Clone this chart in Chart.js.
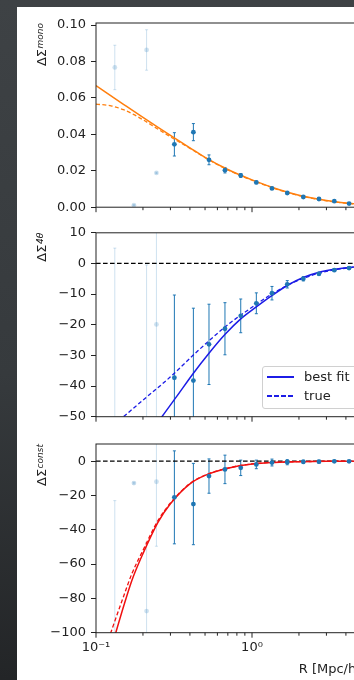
<!DOCTYPE html>
<html>
<head>
<meta charset="utf-8">
<script src="https://cdn.jsdelivr.net/npm/chart.js@4.4.1/dist/chart.umd.min.js"></script>
<style>
  html, body { margin: 0; padding: 0; width: 354px; height: 680px; overflow: hidden; }
  body { background: linear-gradient(180deg, #3e4245 0%, #363a3d 55%, #232527 100%); position: relative; font-family: "DejaVu Sans", sans-serif; }
  #fig { position: absolute; left: 17px; top: 7px; right: 0; bottom: 0; background: #fff; }
  canvas { position: absolute; left: 0; }
  #legend { position: absolute; left: 262px; top: 366px; width: 96px; height: 41px; border: 1px solid #d0d0d0; border-radius: 3px; background: rgba(255,255,255,0.85); font-size: 13px; color: #222; }
  #legend .row { position: absolute; left: 0; height: 16px; line-height: 16px; }
  #legend .swatch { position: absolute; left: 4px; top: 7px; width: 27px; height: 1.5px; background: #1c1ce6; }
  #legend .dashed { background: repeating-linear-gradient(90deg, #1c1ce6 0 4.6px, transparent 4.6px 7px); }
  #legend .label { position: absolute; left: 41px; top: 0; white-space: nowrap; }
</style>
</head>
<body>
<div id="fig"></div>
<canvas id="mono" width="600" height="220" style="top:0px"></canvas>
<canvas id="fourTheta" width="600" height="210" style="top:220px"></canvas>
<canvas id="const" width="600" height="250" style="top:430px"></canvas>
<div id="legend">
  <div class="row" style="top:2px"><span class="swatch"></span><span class="label">best fit</span></div>
  <div class="row" style="top:21px"><span class="swatch dashed"></span><span class="label">true</span></div>
</div>
<script>
// measured bins (Mpc/h); the first four bins are drawn faint
const radii = [0.132, 0.175, 0.211, 0.244, 0.318, 0.421, 0.530, 0.671, 0.847, 1.066, 1.343, 1.683, 2.133, 2.687, 3.37, 4.19];
const faintBins = 4;

const monoValues = [0.0767, 0.0011, 0.0863, 0.0188, 0.0345, 0.0412, 0.0260, 0.0203, 0.0174, 0.0136, 0.0103, 0.0078, 0.0056, 0.0045, 0.0033, 0.0020];
const monoErrors = [0.0122, 0.0003, 0.0111, 0.0004, 0.0064, 0.0047, 0.0027, 0.0015, 0.0010, 0.0007, 0.0006, 0.0005, 0.0004, 0.0003, 0.0003, 0.0003];

const fourThetaValues = [-80, null, -60, -19.9, -37.3, -38.2, -26.4, -21.3, -17.1, -13.0, -9.7, -6.8, -5.0, -3.4, -2.2, -1.5];
const fourThetaErrors = [85, 0, 59.5, 35, 27, 23.6, 13.1, 8.5, 5.5, 3.4, 2.2, 1.2, 0.7, 0.5, 0.4, 0.3];

const constValues = [-130, -12.8, -87.4, -12.0, -21.1, -25.0, -8.7, -4.8, -3.9, -1.9, -0.8, -0.6, -0.4, -0.3, -0.1, -0.1];
const constErrors = [107, 0.5, 40, 37.6, 27.1, 23.7, 10, 8.3, 4.5, 2.5, 2, 1.5, 1, 0.8, 0.6, 0.5];

// model curves
const monoFitR = [0.1, 0.15, 0.2, 0.25, 0.3, 0.4, 0.5, 0.7, 1.0, 1.5, 2, 3, 4.5, 6];
const monoFit = [0.0667, 0.0565, 0.0493, 0.0438, 0.0394, 0.0326, 0.0274, 0.0207, 0.0150, 0.0096, 0.0066, 0.0037, 0.0019, 0.0011];
const monoTrueR = [0.1, 0.125, 0.15, 0.175, 0.2, 0.25, 0.3, 0.4, 0.5, 0.7, 1.0, 1.5, 2, 3, 4.5, 6];
const monoTrue = [0.0566, 0.0556, 0.0535, 0.0508, 0.0480, 0.0428, 0.0386, 0.0323, 0.0272, 0.0205, 0.0148, 0.0094, 0.0064, 0.0035, 0.0018, 0.0010];

const fourThetaFitR = [0.25, 0.33, 0.42, 0.53, 0.67, 0.85, 1.07, 1.34, 1.68, 2.13, 2.69, 3.37, 4.19, 6];
const fourThetaFit = [-51.7, -43.3, -35.9, -29.3, -23.2, -18.0, -14.1, -10.5, -7.2, -4.6, -2.9, -1.9, -1.3, -0.6];
const fourThetaTrueR = [0.14, 0.2, 0.3, 0.45, 0.7, 1.0, 1.4, 2, 3, 4.5, 6];
const fourThetaTrue = [-51.3, -44.6, -37.0, -28.5, -20.0, -14.3, -9.4, -5.4, -2.6, -1.2, -0.6];

const constFitR = [0.13, 0.15, 0.17, 0.2, 0.25, 0.3, 0.4, 0.5, 0.7, 1.0, 1.5, 2, 3, 6];
const constFit = [-104, -84.9, -69.4, -53.9, -35.5, -24.8, -13.2, -8.3, -4.1, -1.6, -0.6, -0.3, -0.1, 0];
const constTrueR = [0.12, 0.15, 0.17, 0.2, 0.25, 0.3, 0.4, 0.5, 0.7, 1.0, 1.5, 2, 3, 6];
const constTrue = [-104, -79, -65.5, -52, -34.5, -24.4, -13.0, -8.2, -4.0, -1.6, -0.6, -0.3, -0.1, 0];

// axes
const xMajorTicks = [0.1, 1, 10, 100];
const xTickLabels = ["10⁻¹", "10⁰", "10¹", "10²"];
const xMinorTicks = [0.2, 0.3, 0.4, 0.5, 0.6, 0.7, 0.8, 0.9, 2, 3, 4, 5, 6, 7, 8, 9, 20, 30, 40, 50, 60, 70, 80, 90];
const monoTicks = [0, 0.02, 0.04, 0.06, 0.08, 0.1];
const fourThetaTicks = [-50, -40, -30, -20, -10, 0, 10];
const constTicks = [-100, -80, -60, -40, -20, 0];

const pointColor = "#1f77b4";
const faintColor = "rgba(31,119,180,0.22)";
const ink = "#222";
const font = "DejaVu Sans";

const xy = (rs, vs) => rs.map((r, i) => ({ x: r, y: vs[i] }));

const errorBars = {
  id: "errorBars",
  beforeDatasetsDraw(chart) {
    const { ctx, chartArea: a, scales: { x, y } } = chart;
    ctx.save();
    ctx.beginPath();
    ctx.rect(a.left, a.top, a.width, a.height);
    ctx.clip();
    chart.data.datasets.forEach((ds) => {
      if (!ds.errors) return;
      ds.data.forEach((p, i) => {
        const e = ds.errors[i];
        if (p.y === null || !e) return;
        const px = x.getPixelForValue(p.x);
        const top = y.getPixelForValue(p.y + e);
        const bot = y.getPixelForValue(p.y - e);
        ctx.strokeStyle = i < faintBins ? faintColor : pointColor;
        ctx.lineWidth = 1;
        ctx.beginPath();
        ctx.moveTo(px, top); ctx.lineTo(px, bot);
        ctx.moveTo(px - 1.5, top); ctx.lineTo(px + 1.5, top);
        ctx.moveTo(px - 1.5, bot); ctx.lineTo(px + 1.5, bot);
        ctx.stroke();
      });
    });
    ctx.restore();
  },
};

const frame = {
  id: "frame",
  afterDraw(chart, args, opts) {
    const { ctx, chartArea: a } = chart;
    const x = chart.scales.x;
    ctx.save();
    ctx.strokeStyle = ink;
    ctx.lineWidth = 1;
    ctx.strokeRect(a.left, a.top, a.width, a.height);
    ctx.beginPath();
    xMajorTicks.forEach((v) => {
      const px = x.getPixelForValue(v);
      ctx.moveTo(px, a.bottom); ctx.lineTo(px, a.bottom + 5);
    });
    xMinorTicks.forEach((v) => {
      const px = x.getPixelForValue(v);
      ctx.moveTo(px, a.bottom); ctx.lineTo(px, a.bottom + 3);
    });
    ctx.stroke();

    // y label, top aligned, with italic superscript
    ctx.translate(46, a.top);
    ctx.rotate(-Math.PI / 2);
    ctx.fillStyle = ink;
    ctx.textBaseline = "alphabetic";
    ctx.textAlign = "left";
    ctx.font = `italic 9px "${font}"`;
    const supW = ctx.measureText(opts.sup).width;
    ctx.font = `13px "${font}"`;
    const mainW = ctx.measureText(opts.main).width;
    ctx.fillText(opts.main, -(mainW + supW + 0.5), 0);
    ctx.font = `italic 9px "${font}"`;
    ctx.fillText(opts.sup, -supW, -3.5);
    ctx.restore();
  },
};

function fmtMinus(v, digits) {
  const s = Math.abs(v).toFixed(digits);
  return v < 0 ? "−" + s : s;
}

function makePanel(id, cfg) {
  const datasets = [
    {
      data: xy(radii, cfg.values),
      errors: cfg.errors,
      showLine: false,
      pointRadius: 2.4,
      pointBorderWidth: 0,
      pointBackgroundColor: radii.map((_, i) => (i < faintBins ? faintColor : pointColor)),
    },
    {
      data: xy(cfg.fitR, cfg.fit),
      borderColor: cfg.color,
      borderWidth: 1.5,
      pointRadius: 0,
      cubicInterpolationMode: "monotone",
    },
    {
      data: xy(cfg.trueR, cfg.truth),
      borderColor: cfg.color,
      borderWidth: 1.3,
      borderDash: [4, 2.4],
      pointRadius: 0,
      cubicInterpolationMode: "monotone",
    },
  ];
  if (cfg.zeroLine) {
    datasets.push({
      data: [{ x: 0.1, y: 0 }, { x: 100, y: 0 }],
      borderColor: "#000",
      borderWidth: 1.2,
      borderDash: [4.6, 2.4],
      pointRadius: 0,
    });
  }

  return new Chart(document.getElementById(id), {
    type: "line",
    data: { datasets },
    plugins: [errorBars, frame],
    options: {
      responsive: false,
      animation: false,
      events: [],
      layout: { padding: { top: cfg.padTop, right: 36, bottom: 0, left: 0 } },
      plugins: {
        legend: { display: false },
        tooltip: { enabled: false },
        frame: { main: "ΔΣ", sup: cfg.sup },
      },
      scales: {
        x: {
          type: "logarithmic",
          min: 0.1,
          max: 100,
          grid: { display: false, drawTicks: false },
          border: { display: false },
          afterBuildTicks: (s) => { s.ticks = xMajorTicks.map((v) => ({ value: v })); },
          afterFit: (s) => { s.height = cfg.xHeight; },
          ticks: {
            display: !!cfg.xLabels,
            autoSkip: false,
            maxRotation: 0,
            padding: 7,
            color: ink,
            font: { family: font, size: 13 },
            callback: (v) => xTickLabels[xMajorTicks.indexOf(v)] ?? "",
          },
          title: {
            display: !!cfg.xLabels,
            text: "R [Mpc/h]",
            color: ink,
            font: { family: font, size: 13 },
            padding: { top: 2, bottom: 3 },
          },
        },
        y: {
          min: cfg.min,
          max: cfg.max,
          grid: { drawOnChartArea: false, drawTicks: true, tickLength: 5, tickColor: ink },
          border: { display: false },
          afterBuildTicks: (s) => { s.ticks = cfg.ticks.map((v) => ({ value: v })); },
          afterFit: (s) => { s.width = 96; },
          ticks: {
            padding: 5,
            color: ink,
            font: { family: font, size: 13 },
            callback: (v) => fmtMinus(v, cfg.digits),
          },
        },
      },
    },
  });
}

makePanel("mono", {
  values: monoValues, errors: monoErrors,
  fitR: monoFitR, fit: monoFit, trueR: monoTrueR, truth: monoTrue,
  color: "#ff7f0e", sup: "mono",
  min: 0, max: 0.1011, ticks: monoTicks, digits: 2,
  padTop: 23, xHeight: 10.7,
});

makePanel("fourTheta", {
  values: fourThetaValues, errors: fourThetaErrors,
  fitR: fourThetaFitR, fit: fourThetaFit, trueR: fourThetaTrueR, truth: fourThetaTrue,
  color: "#1c1ce6", sup: "4θ", zeroLine: true,
  min: -50, max: 10, ticks: fourThetaTicks, digits: 0,
  padTop: 9.3, xHeight: 13.3,
});

makePanel("const", {
  values: constValues, errors: constErrors,
  fitR: constFitR, fit: constFit, trueR: constTrueR, truth: constTrue,
  color: "#f01010", sup: "const", zeroLine: true,
  min: -100, max: 10, ticks: constTicks, digits: 0,
  padTop: 14, xHeight: 47.3, xLabels: true,
});
</script>
</body>
</html>
